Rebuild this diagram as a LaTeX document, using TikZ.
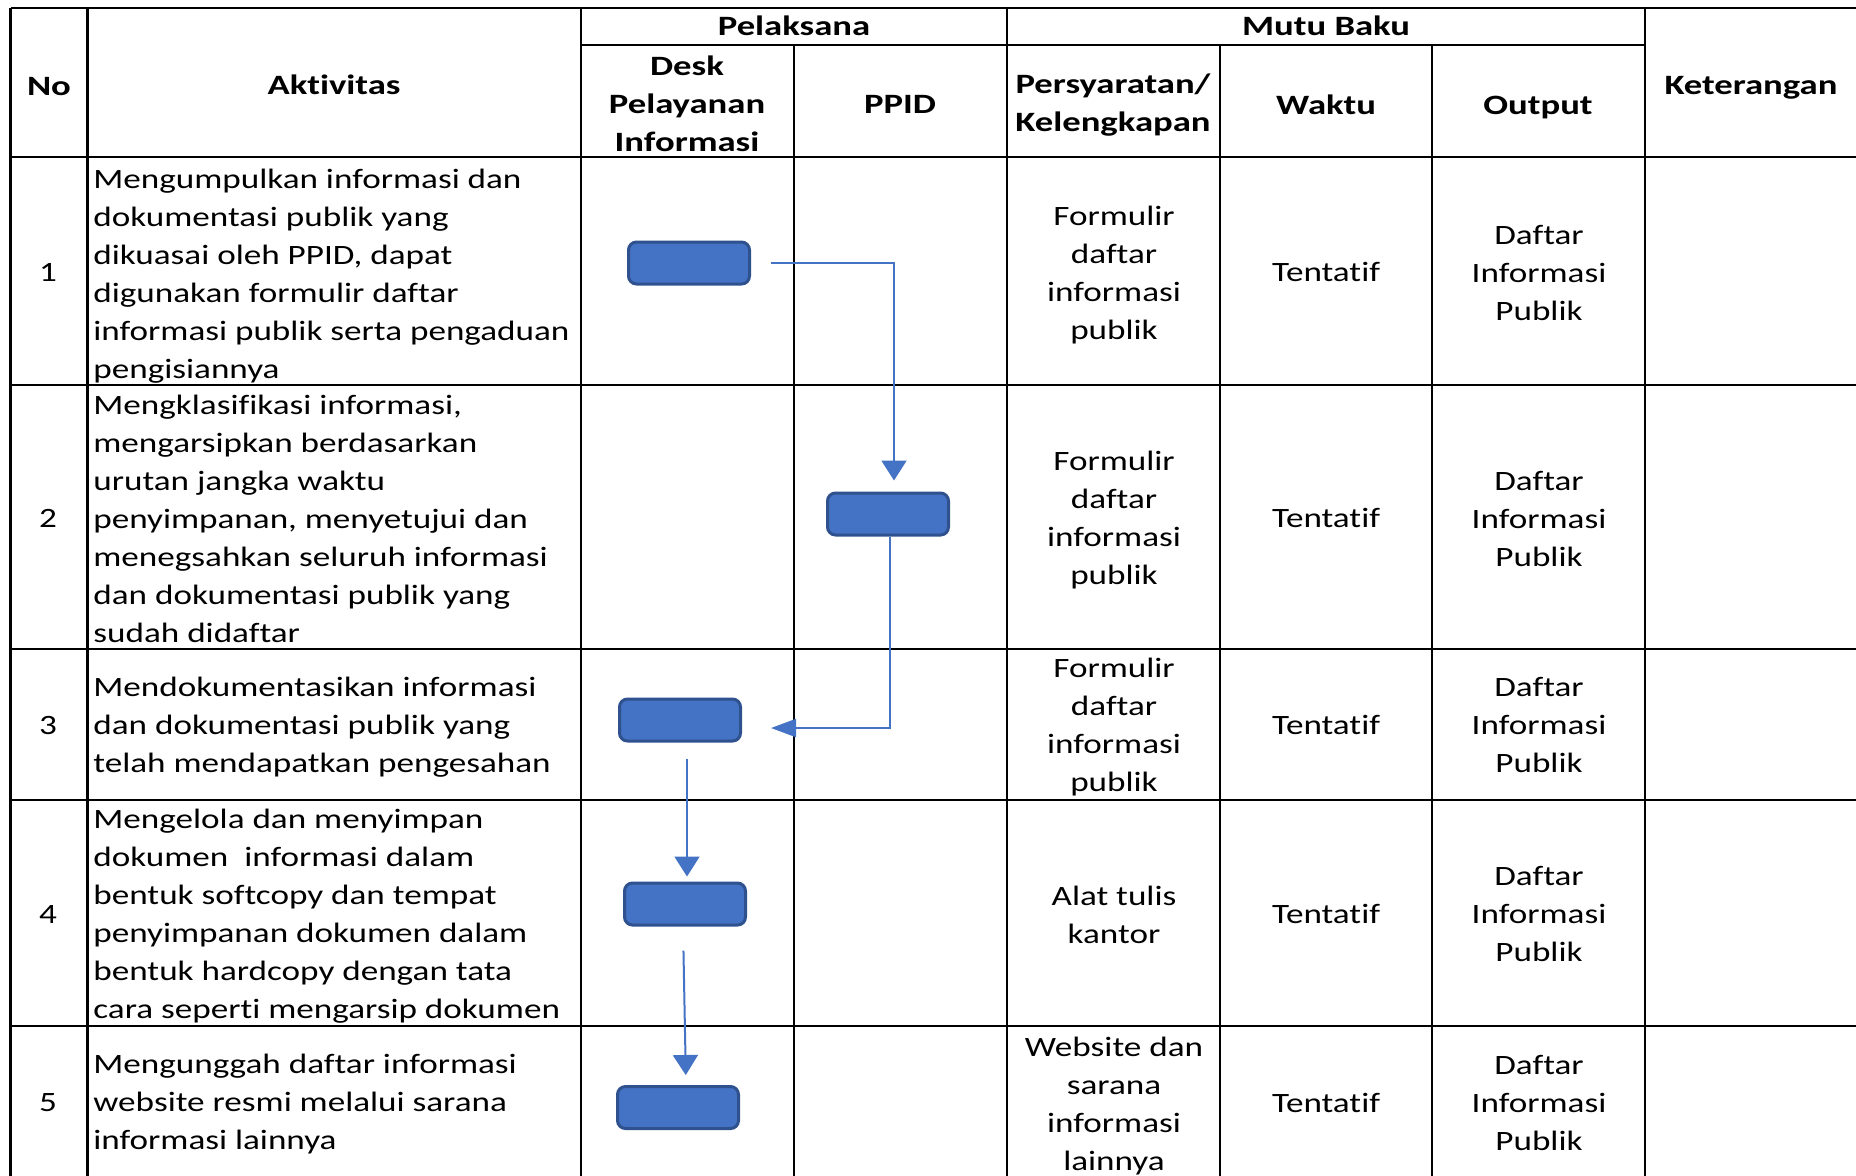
\documentclass[tikz,border=0pt]{standalone}
\usepackage{fontspec}
\setmainfont{Carlito}[FakeStretch=1.255, Ligatures=NoCommon, BoldFeatures={FakeStretch=1.31}]
\usetikzlibrary{arrows.meta}
\definecolor{boxblue}{HTML}{4472C4}
\definecolor{boxedge}{HTML}{2F528F}
\begin{document}
\begin{tikzpicture}[x=0.5pt,y=-0.5pt,
  grid/.style={line width=1.2pt, black},
  txt/.style={inner sep=0pt, font=\fontsize{14pt}{19pt}\selectfont, align=center},
  hdr/.style={inner sep=0pt, font=\fontsize{14pt}{19pt}\selectfont\bfseries, align=center},
  act/.style={inner sep=0pt, font=\fontsize{14pt}{19pt}\selectfont, align=left, anchor=west},
  proc/.style={draw=boxedge, fill=boxblue, line width=1.5pt, rounded corners=4pt,
    minimum width=60.5pt, minimum height=21pt, inner sep=0pt},
  flow/.style={draw=boxblue, line width=1pt, -{Triangle[length=10pt,width=12.5pt]}},
  flowL/.style={draw=boxblue, line width=1pt, -{Triangle[length=12.5pt,width=9pt]}},
]
\useasboundingbox (0,0) rectangle (1856,1175);
\clip (0,0) rectangle (1856,1175);
\fill[white] (0,0) rectangle (1856,1175);

% table grid
\draw[grid] (10.6,8) -- (1860,8);
\draw[grid] (581,45) -- (1645,45);
\foreach \y in {157,385,649,800,1026,1178}
  \draw[grid] (10.6,\y) -- (1860,\y);
\foreach \x in {10.6,87.6,581,1007,1645}
  \draw[grid] (\x,8) -- (\x,1180);
\foreach \x in {794,1220,1432}
  \draw[grid] (\x,45) -- (\x,1180);

% header
\node[hdr] (hNo) at (49,86.4) {No};
\node[hdr] (hAkt) at (334,85.2) {Aktivitas};
\node[hdr] (hPel) at (794,26) {Pelaksana};
\node[hdr] (hDesk) at (687,104) {Desk\\Pelayanan\\Informasi};
\node[hdr] (hPPID) at (900,104) {PPID};
\node[hdr] (hMutu) at (1326,26) {Mutu Baku};
\node[hdr] (hPers) at (1113,105.4) {Persyaratan/\\Kelengkapan};
\node[hdr] (hWaktu) at (1326,105) {Waktu};
\node[hdr] (hOut) at (1538,107.5) {Output};
\node[hdr] (hKet) at (1751,87.5) {Keterangan};

% row 1
\node[txt] (n1) at (48,272) {1};
\node[act] (a1) at (93,276) {Mengumpulkan informasi dan\\dokumentasi publik yang\\dikuasai oleh PPID, dapat\\digunakan formulir daftar\\informasi publik serta pengaduan\\pengisiannya};
\node[txt] (p1) at (1114,275.5) {Formulir\\daftar\\informasi\\publik};
\node[txt] (w1) at (1326,272) {Tentatif};
\node[txt] (o1) at (1539,273) {Daftar\\Informasi\\Publik};

% row 2
\node[txt] (n2) at (48,518) {2};
\node[act] (a2) at (93,519) {Mengklasifikasi informasi,\\mengarsipkan berdasarkan\\urutan jangka waktu\\penyimpanan, menyetujui dan\\menegsahkan seluruh informasi\\dan dokumentasi publik yang\\sudah didaftar};
\node[txt] (p2) at (1114,520.4) {Formulir\\daftar\\informasi\\publik};
\node[txt] (w2) at (1326,518) {Tentatif};
\node[txt] (o2) at (1539,519) {Daftar\\Informasi\\Publik};

% row 3
\node[txt] (n3) at (48,725) {3};
\node[act] (a3) at (93,727.4) {Mendokumentasikan informasi\\dan dokumentasi publik yang\\telah mendapatkan pengesahan};
\node[txt] (p3) at (1114,727.4) {Formulir\\daftar\\informasi\\publik};
\node[txt] (w3) at (1326,725) {Tentatif};
\node[txt] (o3) at (1539,725) {Daftar\\Informasi\\Publik};

% row 4
\node[txt] (n4) at (48,914) {4};
\node[act] (a4) at (93,916.5) {Mengelola dan menyimpan\\dokumen\ \ informasi dalam\\bentuk softcopy dan tempat\\penyimpanan dokumen dalam\\bentuk hardcopy dengan tata\\cara seperti mengarsip dokumen};
\node[txt] (p4) at (1114,914.6) {Alat tulis\\kantor};
\node[txt] (w4) at (1326,914) {Tentatif};
\node[txt] (o4) at (1539,914) {Daftar\\Informasi\\Publik};

% row 5
\node[txt] (n5) at (48,1103) {5};
\node[act] (a5) at (93,1104.2) {Mengunggah daftar informasi\\website resmi melalui sarana\\informasi lainnya};
\node[txt] (p5) at (1114,1106.4) {Website dan\\sarana\\informasi\\lainnya};
\node[txt] (w5) at (1326,1103) {Tentatif};
\node[txt] (o5) at (1539,1103) {Daftar\\Informasi\\Publik};

% process boxes
\node[proc] (b1) at (689,263) {};
\node[proc] (b2) at (888,514) {};
\node[proc] (b3) at (680,720) {};
\node[proc] (b4) at (685,904) {};
\node[proc] (b5) at (678,1107.5) {};

% connectors
\draw[flow, shorten <=10pt, shorten >=5.5pt] (b1.east) -| ([xshift=3pt]b2.north);
\draw[flowL, shorten >=14.5pt] ([xshift=1pt]b2.south) |- ([yshift=-4pt]b3.east);
\draw[flow, shorten <=8pt, shorten >=2.5pt] ([xshift=3.5pt]b3.south) -- ([xshift=1pt]b4.north);
\draw[flow, shorten <=12pt, shorten >=5pt] ([xshift=-1pt]b4.south) -- ([xshift=4pt]b5.north);
\end{tikzpicture}
\end{document}
